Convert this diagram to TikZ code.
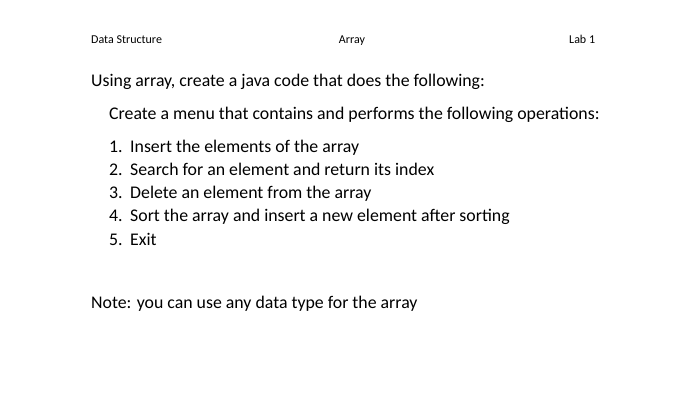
\documentclass[tikz,border=0pt]{standalone}
\usepackage{fontspec}
\setmainfont{Carlito}
\tikzset{
  hdr/.style={anchor=base west,inner sep=0pt,font=\fontsize{12}{14}\selectfont},
  body/.style={anchor=base west,inner sep=0pt,font=\fontsize{17.8}{20}\selectfont}
}
\begin{document}
\begin{tikzpicture}[x=1pt,y=-1pt]
\useasboundingbox (0,0) rectangle (700,411);
\fill[white] (0,0) rectangle (700,411);
% header
\node[hdr] (ds) at (91,44) {Data Structure};
\node[hdr,anchor=base] (arr) at (352,44) {Array};
\node[hdr] (lab) at (569,44) {Lab 1};
% task
\node[body] (task) at (91,87) {Using array, create a java code that does the following:};
\node[body] (menu) at (109,120) {Create a menu that contains and performs the following operations:};
\foreach \i/\t [count=\k] in {153/Insert the elements of the array,
  176/Search for an element and return its index,
  199/Delete an element from the array,
  222/Sort the array and insert a new element after sorting,
  246/Exit}{
  \node[body] (num\k) at (109,\i) {\k.};
  \node[body] (item\k) at (130,\i) {\t};
}
\node[body] (note) at (91,308) {Note: you can use any data type for the array};
\end{tikzpicture}
\end{document}
